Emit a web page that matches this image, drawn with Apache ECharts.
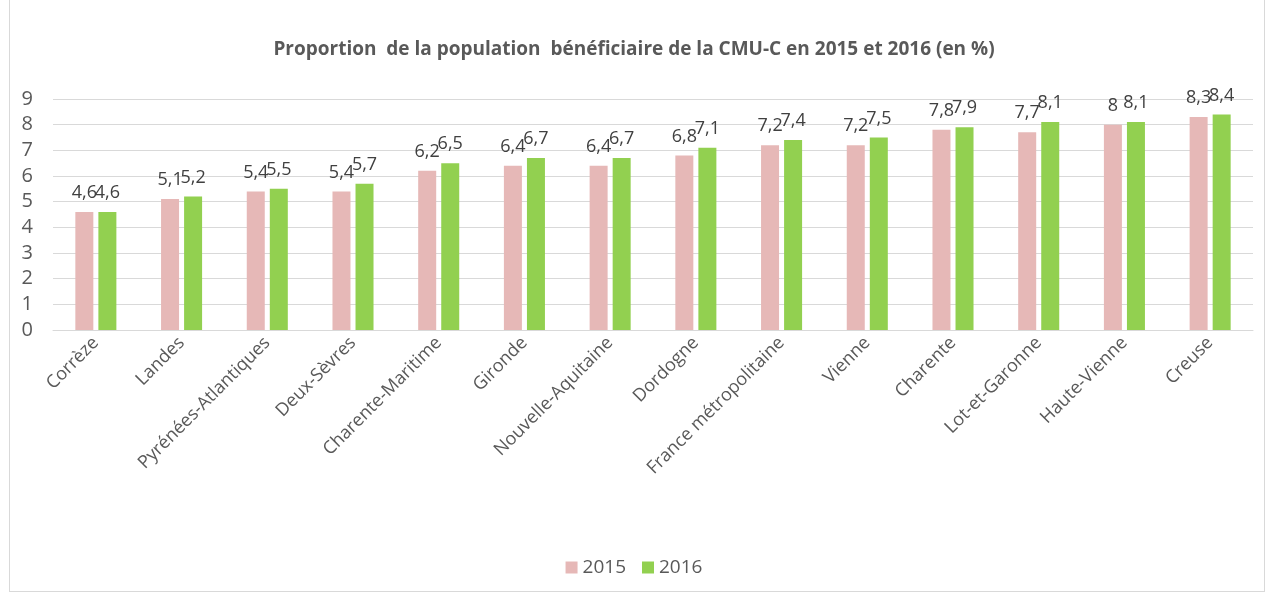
<!DOCTYPE html>
<html>
<head>
<meta charset="utf-8">
<script src="https://cdn.jsdelivr.net/npm/echarts@6/dist/echarts.min.js"></script>
<style>
  html, body { margin: 0; padding: 0; background: #fff; }
  #frame { position: absolute; left: 9px; top: 0; width: 1256px; height: 592px; border: 1px solid #d9d9d9; border-top: none; box-sizing: border-box; }
  #chart { position: absolute; left: 0; top: 0; width: 1268px; height: 596px; }
</style>
</head>
<body>
<div id="frame"></div>
<div id="chart"></div>
<script>
// données
const departements = ['Corrèze', 'Landes', 'Pyrénées-Atlantiques', 'Deux-Sèvres', 'Charente-Maritime',
  'Gironde', 'Nouvelle-Aquitaine', 'Dordogne', 'France métropolitaine', 'Vienne', 'Charente',
  'Lot-et-Garonne', 'Haute-Vienne', 'Creuse'];
const val2015 = [4.6, 5.1, 5.4, 5.4, 6.2, 6.4, 6.4, 6.8, 7.2, 7.2, 7.8, 7.7, 8, 8.3];
const val2016 = [4.6, 5.2, 5.5, 5.7, 6.5, 6.7, 6.7, 7.1, 7.4, 7.5, 7.9, 8.1, 8.1, 8.4];
const yTicks = [0, 1, 2, 3, 4, 5, 6, 7, 8, 9];

const FONT = '"Open Sans", "Noto Sans", sans-serif';
const fmt = p => String(p.value).replace('.', ',');

const chart = echarts.init(document.getElementById('chart'));

const labelStyle = {
  show: true,
  position: 'top',
  distance: 10,
  formatter: fmt,
  color: '#404040',
  fontSize: 18,
  fontFamily: FONT
};

chart.setOption({
  animation: false,
  title: {
    text: 'Proportion  de la population  bénéficiaire de la CMU-C en 2015 et 2016 (en %)',
    left: 'center',
    top: 35,
    textStyle: { fontSize: 19, fontWeight: 'bold', color: '#595959', fontFamily: FONT }
  },
  legend: {
    bottom: 14,
    left: 'center',
    itemWidth: 12,
    itemHeight: 12,
    itemGap: 16,
    icon: 'rect',
    textStyle: { fontSize: 19, color: '#595959', fontFamily: FONT },
    data: ['2015', '2016']
  },
  grid: { left: 53, right: 15, top: 99, bottom: 266, containLabel: false },
  xAxis: {
    type: 'category',
    data: departements,
    axisTick: { show: false },
    axisLine: { lineStyle: { color: '#d9d9d9' } },
    axisLabel: {
      rotate: 45,
      interval: 0,
      margin: 10,
      color: '#595959',
      fontSize: 18,
      fontFamily: FONT
    }
  },
  yAxis: {
    type: 'value',
    min: yTicks[0],
    max: yTicks[yTicks.length - 1],
    interval: 1,
    axisLabel: { color: '#595959', fontSize: 20, fontFamily: FONT, margin: 20 },
    splitLine: { lineStyle: { color: '#d9d9d9' } },
    axisLine: { show: false },
    axisTick: { show: false }
  },
  series: [
    {
      name: '2015',
      type: 'bar',
      data: val2015,
      barWidth: 18,
      barGap: '28%',
      itemStyle: { color: '#E6B8B7' },
      label: labelStyle
    },
    {
      name: '2016',
      type: 'bar',
      data: val2016,
      barWidth: 18,
      itemStyle: { color: '#92D050' },
      label: labelStyle
    }
  ]
});
</script>
</body>
</html>
